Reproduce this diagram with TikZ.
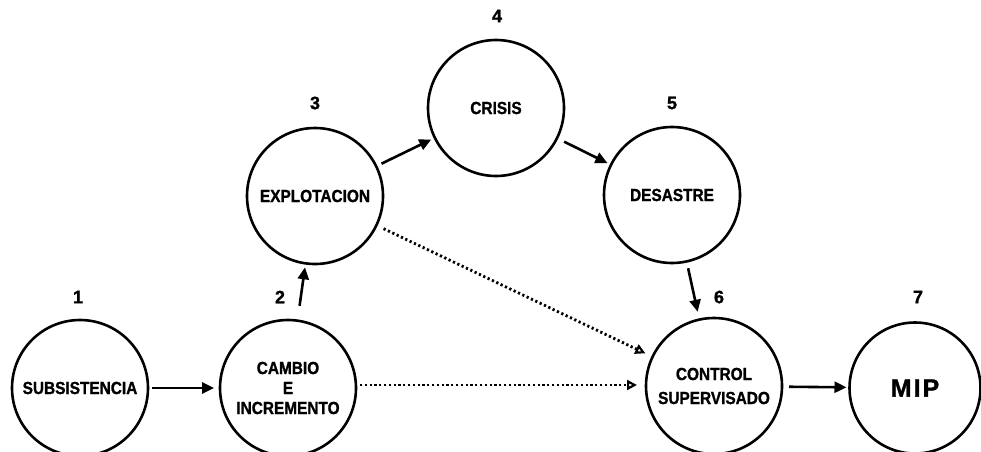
\documentclass[tikz,border=0pt]{standalone}
\usepackage{fontspec}
\newfontfamily\labf{Liberation Sans}[FakeStretch=0.88,FakeBold=1.2]
\newfontfamily\labw{Liberation Sans}[FakeBold=1.2]
\usetikzlibrary{arrows.meta}
\tikzset{
  stage/.style={draw, circle, line width=2.6pt, minimum size=136pt, inner sep=0pt, outer sep=0pt, align=center,
    font=\labf\bfseries\fontsize{17.5}{20}\selectfont},
  num/.style={font=\labw\bfseries\fontsize{18}{18}\selectfont, inner sep=0pt},
  flow/.style={line width=2.6pt, -{Triangle[length=12pt,width=11pt]}},
  weak/.style={line width=2.8pt, dash pattern=on 2.2pt off 2.6pt, -{Triangle[open,length=10pt,width=10pt,line width=2.2pt]}}
}
\begin{document}
\begin{tikzpicture}[x=1pt,y=-1pt]
\clip (0,0) rectangle (981,451);
\fill[white] (0,0) rectangle (981,451);
\node[stage] (n1) at (80,388) {SUBSISTENCIA};
\node[stage] (n2) at (288,388) {CAMBIO\\E\\INCREMENTO};
\node[stage] (n3) at (315,196) {EXPLOTACION};
\node[stage] (n4) at (496,108) {CRISIS};
\node[stage] (n5) at (672,195) {DESASTRE};
\node[stage, font=\labf\bfseries\fontsize{17.5}{24}\selectfont] (n6) at (714,386) {CONTROL\\SUPERVISADO};
\node[stage, minimum size=131pt, font=\labw\bfseries\fontsize{25}{25}\selectfont] (n7) at (915,388) {M\kern2pt I\kern2pt P};
\node[num] (l1) at (78,297) {1};
\node[num] (l2) at (280,297) {2};
\node[num] (l3) at (315,103) {3};
\node[num] (l4) at (497,16) {4};
\node[num] (l5) at (672,103) {5};
\node[num] (l6) at (719,297) {6};
\node[num] (l7) at (918,297) {7};
\draw[flow, shorten <=4pt, shorten >=6pt] (n1) -- (n2);
\draw[flow, shorten <=15pt, shorten >=4pt] (n2) -- (n3);
\draw[flow, shorten <=6pt, shorten >=4pt] (n3) -- (n4);
\draw[flow, shorten <=8pt, shorten >=4pt] (n4) -- (n5);
\draw[flow, shorten <=7pt, shorten >=8pt] (n5) -- (n6);
\draw[flow, shorten <=7pt, shorten >=3pt] (n6) -- (n7);
\draw[weak, shorten <=8pt, shorten >=8pt] (n3) -- (n6);
\draw[weak, shorten <=4pt, shorten >=9pt] ([yshift=3pt]n2.east) -- ([yshift=1pt]n6.west);
\end{tikzpicture}
\end{document}
